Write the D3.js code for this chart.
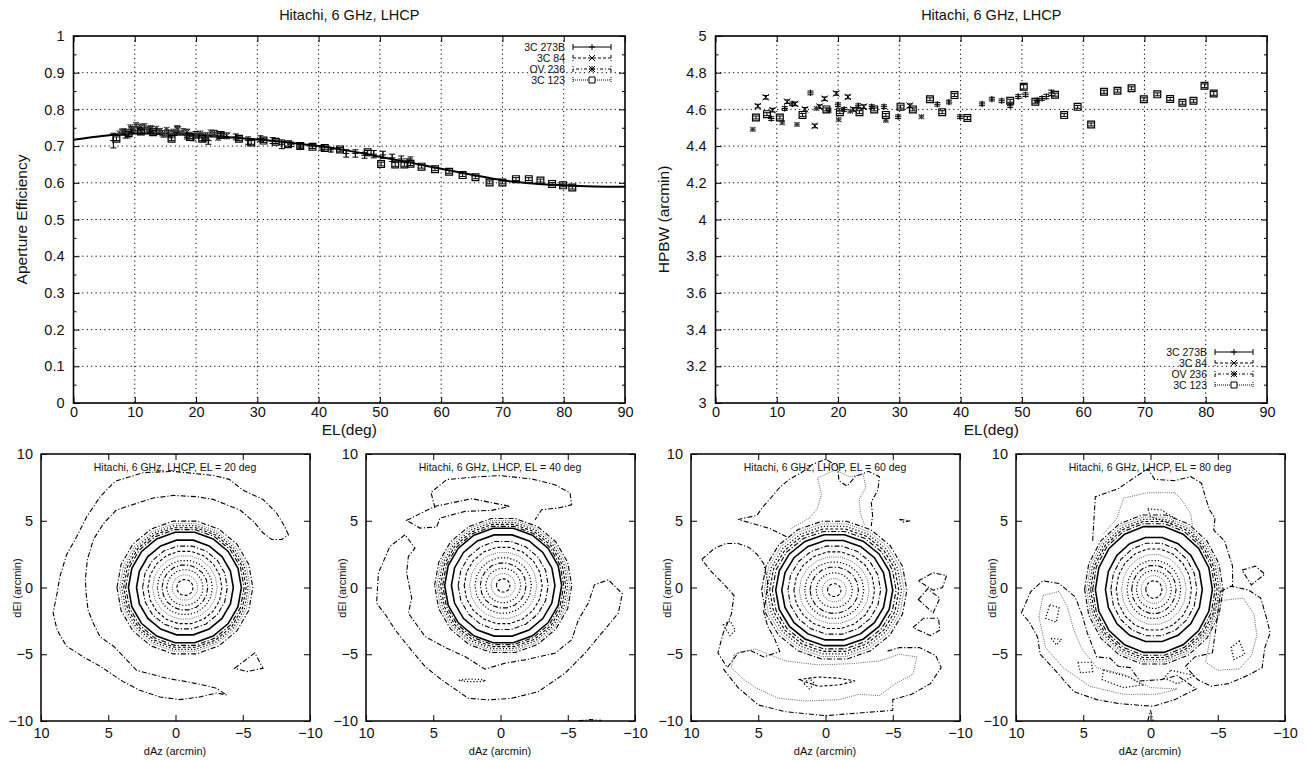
<!DOCTYPE html>
<html>
<head>
<meta charset="utf-8">
<script src="https://cdn.jsdelivr.net/npm/d3@7"></script>
<style>
  body { margin: 0; background: #fff; }
  text { font-family: "Liberation Sans", Arial, Helvetica, sans-serif; fill: #111; }
</style>
</head>
<body>
<svg id="chart" width="1306" height="760"></svg>
<script>
// ---------- data: aperture efficiency vs elevation ----------
const effFitEl  = [0, 5, 10, 15, 20, 25, 30, 35, 40, 45, 50, 55, 60, 65, 70, 75, 80, 85, 90];
const effFitVal = [0.717, 0.728, 0.734, 0.734, 0.730, 0.725, 0.718, 0.710, 0.700, 0.687, 0.671, 0.655, 0.638, 0.622, 0.607, 0.598, 0.593, 0.590, 0.589];

// [EL, value, error]
const eff3C273B = [[6.5,0.715,0.02],[8.5,0.73,0.008],[10.5,0.742,0.008],[12.5,0.74,0.006],[14.5,0.735,0.007],[16.5,0.735,0.006],
  [18.5,0.73,0.006],[20.5,0.728,0.006],[22,0.715,0.01],[24,0.73,0.006],[26.5,0.725,0.008],[28.5,0.715,0.01],[30.5,0.72,0.008],
  [32.5,0.715,0.008],[34,0.705,0.012],[35.5,0.705,0.006],[37,0.70,0.006],[39,0.70,0.006],[40.5,0.695,0.006],[42,0.69,0.006],
  [44.5,0.68,0.01],[46,0.68,0.01],[47.5,0.675,0.008],[49,0.678,0.01],[50.5,0.676,0.01],[52,0.668,0.01],[53.5,0.665,0.008]];
const eff3C84 = [[8,0.738,0.008],[9.5,0.745,0.008],[11,0.752,0.008],[12.5,0.745,0.008],[14,0.74,0.008],[15.5,0.735,0.008],
  [17,0.745,0.008],[18.5,0.738,0.008],[20,0.732,0.008],[21.5,0.728,0.008],[23,0.735,0.008],[25,0.728,0.008]];
const effOV236 = [[7.5,0.735,0.006],[8.2,0.742,0.006],[8.8,0.728,0.006],[9.3,0.752,0.006],[9.8,0.745,0.006],[10.2,0.758,0.006],
  [10.7,0.748,0.006],[11.1,0.738,0.006],[11.6,0.755,0.006],[12.0,0.745,0.006],[12.6,0.75,0.006],[13.1,0.735,0.006],
  [13.5,0.748,0.006],[14.1,0.742,0.006],[14.7,0.73,0.006],[15.2,0.745,0.006],[15.8,0.728,0.006],[16.3,0.74,0.006],
  [16.9,0.75,0.006],[17.4,0.735,0.006],[17.9,0.742,0.006],[18.5,0.725,0.006],[19.0,0.732,0.006],[19.6,0.72,0.006],
  [20.1,0.728,0.006],[20.7,0.735,0.006],[21.3,0.718,0.006],[21.8,0.725,0.006],[22.4,0.738,0.006],[23.0,0.73,0.006],
  [23.6,0.722,0.006],[24.2,0.728,0.006],[54.5,0.66,0.006],[55,0.665,0.006]];
const eff3C123 = [[7,0.72,0.005],[9,0.735,0.005],[11,0.74,0.005],[13,0.738,0.005],[16,0.72,0.005],[19,0.725,0.005],
  [21,0.72,0.005],[24,0.73,0.005],[27,0.72,0.005],[29,0.71,0.005],[31,0.715,0.005],[33,0.712,0.005],[35,0.705,0.005],
  [37,0.70,0.005],[39,0.698,0.005],[41,0.695,0.005],[43.5,0.691,0.005],[48,0.683,0.005],[50.2,0.651,0.005],
  [52.5,0.65,0.005],[54,0.65,0.005],[55,0.652,0.005],[56.8,0.644,0.004],[59,0.637,0.004],[61.3,0.63,0.004],
  [63.5,0.621,0.004],[65.6,0.615,0.004],[67.9,0.601,0.004],[70,0.601,0.004],[72.2,0.61,0.004],[74.3,0.61,0.004],
  [76.2,0.606,0.004],[78.1,0.597,0.004],[79.9,0.593,0.004],[81.4,0.587,0.004]];

// ---------- data: HPBW vs elevation ----------
const hpbw3C273B = [[9.1,4.55,0.01],[11.3,4.605,0.01],[12.5,4.63,0.01],[15.5,4.69,0.01],[20,4.625,0.01],[21,4.6,0.01],
  [23.3,4.62,0.01],[25.5,4.615,0.01],[27.5,4.615,0.01],[29.8,4.56,0.01],[36.2,4.628,0.01],[38.1,4.64,0.01],[39.9,4.56,0.01],
  [43.5,4.63,0.01],[45.1,4.656,0.01],[46.7,4.647,0.01],[48.1,4.62,0.01],[49.4,4.67,0.01],[50.6,4.68,0.01],[52.5,4.65,0.01],
  [53.3,4.66,0.01],[54,4.67,0.012],[54.8,4.69,0.015]];
const hpbw3C84 = [[6.9,4.618,0.01],[8.2,4.666,0.01],[9.3,4.596,0.01],[11.7,4.642,0.01],[13,4.63,0.01],[14.6,4.6,0.01],
  [16.2,4.51,0.01],[17,4.615,0.01],[17.8,4.658,0.01],[19.7,4.687,0.01],[21.6,4.668,0.01],[22.5,4.6,0.01],[24.2,4.615,0.01],
  [31.7,4.62,0.01]];
const hpbwOV236 = [[6.1,4.491,0.008],[10.9,4.527,0.008],[13.3,4.518,0.008],[16.5,4.605,0.008],[18.5,4.595,0.008],
  [20.1,4.544,0.008],[22,4.59,0.008],[27.8,4.54,0.008],[33.6,4.56,0.008]];
const hpbw3C123 = [[6.6,4.556,0.008],[8.4,4.574,0.008],[10.5,4.556,0.008],[14.2,4.57,0.008],[18.1,4.6,0.008],[20.3,4.585,0.008],
  [23.5,4.585,0.008],[25.9,4.6,0.008],[27.8,4.57,0.008],[30.2,4.615,0.008],[32.2,4.6,0.008],[35,4.655,0.008],[37,4.585,0.008],
  [39,4.678,0.008],[41.1,4.553,0.008],[48.1,4.647,0.008],[50.3,4.723,0.012],[52.2,4.642,0.008],[55.4,4.68,0.008],
  [56.9,4.569,0.008],[59.1,4.614,0.008],[61.3,4.518,0.008],[63.4,4.696,0.008],[65.6,4.702,0.008],[67.9,4.715,0.008],
  [69.9,4.655,0.008],[72.1,4.682,0.008],[74.2,4.657,0.008],[76.2,4.636,0.008],[78,4.647,0.008],[79.8,4.729,0.01],
  [81.3,4.687,0.01]];

const sourceNames = ["3C 273B", "3C 84", "OV 236", "3C 123"];

// ---------- data: beam maps (dAz, dEl in arcmin) ----------
const mapElevations = [20, 40, 60, 80];
const mapCentres = [[-0.7, 0.0], [-0.2, 0.15], [-0.65, -0.2], [-0.25, -0.15]];
const mapAspect = [1.0, 1.0, 0.97, 1.1];
// radius of each contour level around the main beam, innermost first
const mapRadii = [
  [0.6, 0.95, 1.35, 1.7, 2.05, 2.4, 2.75, 3.15, 3.6, 4.2, 4.4, 4.55, 4.7, 4.85, 5.05],
  [0.5, 0.9, 1.3, 1.7, 2.1, 2.5, 2.9, 3.35, 3.85, 4.35, 4.5, 4.65, 4.8, 4.95, 5.1],
  [0.5, 0.9, 1.35, 1.8, 2.2, 2.6, 3.0, 3.45, 3.9, 4.35, 4.6, 4.8, 5.0, 5.2, 5.4],
  [0.6, 0.95, 1.3, 1.65, 2.0, 2.4, 2.8, 3.2, 3.6, 4.35, 4.55, 4.7, 4.85, 5.0, 5.15]
];
// side-lobe traces: [level index, closed (1) or open (0), points]
const map20Lobes = [
  [14, 1, [[-8.4,3.95],[-8.1,4.6],[-7.5,5.6],[-6.5,6.6],[-5.0,7.3],[-4.0,8.1],[-2.8,8.4],[0.2,8.7],[2.4,8.6],[4.5,7.95],
    [5.6,6.8],[6.6,5.3],[7.35,3.8],[8.1,2.45],[8.6,0.8],[8.8,-0.4],[9.1,-1.9],[8.8,-3.2],[8.1,-4.4],[6.85,-5.2],[5.6,-5.9],
    [3.9,-7.05],[2.65,-7.7],[1.15,-8.2],[-0.3,-8.4],[-1.8,-8.2],[-3.05,-7.9],[-3.8,-8.05],[-3.05,-7.55],[-2.05,-7.3],
    [-0.8,-7.05],[0.65,-6.8],[2.15,-6.4],[2.9,-6.2],[3.65,-5.4],[4.6,-4.4],[5.6,-3.7],[6.1,-2.7],[6.5,-1.7],[6.65,-0.4],
    [6.7,0.6],[6.55,2.1],[6.1,3.6],[5.35,4.8],[4.4,5.8],[2.9,6.3],[1.65,6.7],[0.15,6.9],[-1.6,6.8],[-2.8,6.6],[-3.8,6.2],
    [-4.8,5.8],[-5.8,4.95],[-6.5,4.1],[-7.15,3.6],[-7.9,3.6]]],
  [14, 1, [[-4.4,-6.05],[-5.9,-4.9],[-6.5,-6.05],[-5.3,-6.3]]]
];
const map40Lobes = [
  [14, 0, [[4.87,5.95],[5.17,7.13],[4.0,8.08],[1.9,8.28],[0.04,8.38],[-2.32,8.13],[-4.05,7.7],[-5.17,7.08],[-5.29,6.2],
    [-4.3,5.95],[-3.06,5.83],[-2.57,5.08]]],
  [14, 1, [[6.98,5.03],[4.87,6.08],[2.14,6.65],[-0.71,6.08],[0.66,5.78],[2.64,5.7],[4.5,5.2],[4.75,4.53],[5.99,4.45]]],
  [14, 1, [[7.1,3.95],[8.22,3.08],[9.08,1.08],[9.21,-1.17],[8.46,-2.17],[7.84,-3.17],[6.85,-4.42],[5.61,-5.92],[4.37,-6.92],
    [2.39,-8.3],[0.9,-8.42],[-0.83,-8.3],[-2.81,-7.8],[-4.8,-6.42],[-6.28,-4.92],[-7.52,-3.42],[-8.76,-1.92],[-9.06,-0.47],
    [-8.02,0.58],[-6.98,0.2],[-6.53,-1.17],[-5.79,-2.42],[-5.29,-3.92],[-4.05,-4.92],[-1.82,-5.42],[-0.33,-5.67],[1.15,-6.12],
    [2.64,-5.17],[4.0,-4.55],[5.61,-3.67],[6.85,-1.92],[6.6,-0.8],[6.98,1.08],[6.85,2.33],[6.36,2.95]]],
  [12, 1, [[3.1,-6.95],[2.5,-6.86],[1.5,-6.88],[1.1,-6.98],[1.5,-7.05],[2.5,-7.05]]],
  [14, 0, [[-5.8,-9.99],[-6.6,-9.9],[-7.5,-9.95]]]
];
const map60Lobes = [
  [14, 0, [[2.9,3.8],[4.1,4.4],[5.1,4.7],[6.5,5.1],[5.1,5.4],[4.6,6.1],[3.9,6.9],[3.4,7.5],[2.7,8.1],[1.8,8.6],[1.0,9.2],
    [0.0,9.6],[-0.9,9.1],[-1.0,8.0],[-1.6,7.6],[-2.2,8.3],[-3.2,8.7],[-4.0,8.3],[-3.9,7.3],[-3.4,6.4],[-3.5,5.4],[-3.4,4.6]]],
  [13, 0, [[2.6,4.4],[1.2,5.2],[0.6,5.9],[0.3,7.0],[0.6,8.2],[-0.7,8.8],[-1.8,8.3],[-2.8,8.5],[-3.0,7.5],[-2.5,6.6],
    [-2.6,5.5],[-2.9,4.7]]],
  [14, 1, [[9.2,2.1],[8.3,2.9],[7.4,3.3],[6.5,3.3],[5.7,3.0],[5.1,2.5],[4.6,1.8],[4.3,0.5],[4.4,-0.7],[4.6,-1.8],[4.3,-2.9],
    [3.8,-3.8],[3.4,-4.8],[4.6,-5.2],[5.6,-4.7],[6.5,-4.9],[7.3,-6.0],[8.0,-4.9],[7.6,-3.4],[7.0,-2.0],[6.8,-0.6],[7.6,0.3],[8.5,1.2]]],
  [13, 1, [[6.8,-5.0],[5.2,-4.6],[3.0,-5.5],[0.5,-5.8],[-2.0,-5.7],[-4.0,-5.5],[-5.5,-5.0],[-6.8,-5.2],[-6.5,-6.5],[-5.2,-7.2],
    [-4.0,-8.1],[-2.5,-8.0],[-1.0,-8.4],[1.5,-8.5],[3.5,-8.3],[5.2,-7.5],[6.2,-6.8],[7.0,-6.0]]],
  [14, 0, [[7.6,-6.1],[6.5,-7.5],[5.0,-8.8],[3.0,-9.3],[0.0,-9.6],[-2.5,-9.4],[-5.0,-9.2],[-5.0,-8.4],[-6.4,-8.0],[-7.8,-7.2],
    [-8.6,-6.0],[-8.2,-5.1],[-7.0,-4.5],[-5.5,-4.5],[-4.5,-4.8]]],
  [11, 1, [[2.0,-6.9],[0.5,-6.7],[-1.0,-6.8],[-2.2,-7.0],[-1.0,-7.3],[0.5,-7.4]]],
  [14, 1, [[-6.9,0.5],[-8.0,1.1],[-9.0,0.9],[-8.7,0.0],[-8.0,-0.2]]],
  [14, 1, [[-6.9,-0.9],[-7.6,-0.1],[-8.5,-0.8],[-8.0,-1.9]]],
  [14, 1, [[-6.5,-3.0],[-7.3,-2.3],[-8.4,-2.3],[-8.5,-3.2],[-7.8,-3.6]]],
  [14, 1, [[-5.5,5.1],[-6.3,5.0],[-5.8,4.9]]],
  [12, 1, [[7.6,-2.8],[7.1,-2.5],[6.7,-3.2],[7.1,-3.6]]],
  [12, 1, [[1.6,-7.2],[1.2,-6.8],[0.8,-7.2],[1.2,-7.6]]]
];
const map80Lobes = [
  [14, 0, [[4.3,3.5],[4.2,5.2],[4.1,6.8],[2.4,7.4],[1.1,8.3],[0.2,8.9],[-0.3,8.1],[-1.8,8.0],[-3.0,8.3],[-3.8,7.8],[-4.1,6.7],
    [-4.4,5.8],[-4.8,5.2],[-4.7,4.3],[-5.5,3.5],[-6.1,1.6],[-6.1,0.1]]],
  [13, 0, [[3.5,4.0],[2.5,5.2],[2.0,6.7],[0.2,7.1],[-1.8,7.1],[-2.3,6.6],[-3.0,5.5],[-3.2,4.0],[-3.8,2.8]]],
  [12, 1, [[0.2,5.9],[-0.8,5.8],[-1.8,5.2],[-1.6,4.8],[0.0,5.3]]],
  [14, 1, [[-5.2,-0.3],[-6.0,0.1],[-7.3,-0.2],[-8.2,-0.8],[-8.6,-2.2],[-8.9,-3.4],[-8.5,-4.5],[-8.3,-6.0],[-7.2,-6.6],
    [-5.8,-7.2],[-4.5,-7.4],[-3.5,-6.9],[-2.6,-5.9],[-3.3,-5.2],[-4.6,-4.9],[-4.8,-3.5],[-5.0,-2.0]]],
  [13, 1, [[-5.0,-1.0],[-6.9,-0.8],[-7.7,-2.0],[-7.9,-3.6],[-7.5,-5.1],[-6.6,-6.1],[-5.0,-6.2],[-4.1,-5.6],[-4.4,-4.0],[-4.6,-2.3]]],
  [14, 1, [[9.6,-1.9],[8.9,-0.3],[8.0,0.5],[6.8,0.3],[5.6,-0.7],[5.1,-2.0],[4.7,-3.4],[4.0,-5.2],[3.0,-5.3],[2.4,-5.9],
    [1.5,-6.0],[0.8,-7.0],[-0.8,-6.9],[-2.0,-6.6],[-3.4,-7.6],[-1.8,-8.4],[-0.2,-8.9],[2.3,-8.7],[4.0,-8.4],[5.7,-7.8],
    [7.0,-6.3],[8.2,-5.0],[8.4,-3.7],[9.0,-2.6]]],
  [13, 1, [[8.3,-2.2],[8.0,-0.6],[6.8,-0.3],[6.2,-1.4],[5.7,-3.2],[5.1,-4.6],[4.0,-6.0],[2.0,-6.5],[0.0,-7.5],[-2.0,-7.6],
    [-0.5,-8.0],[2.0,-8.0],[4.5,-7.4],[6.5,-6.0],[7.8,-4.5]]],
  [12, 1, [[7.5,-1.3],[6.8,-1.5],[7.0,-2.6],[7.8,-2.3]]],
  [12, 1, [[7.4,-3.8],[6.6,-3.9],[7.0,-4.3]]],
  [12, 1, [[5.4,-5.6],[4.4,-5.6],[4.3,-6.3],[5.2,-6.4]]],
  [12, 1, [[3.5,-6.2],[1.6,-6.7],[0.6,-7.3],[2.0,-7.5],[3.6,-6.9]]],
  [12, 1, [[-1.5,-6.2],[-3.3,-6.6],[-2.0,-7.2],[-1.0,-6.8]]],
  [12, 1, [[-6.6,-4.0],[-7.0,-5.0],[-6.2,-5.4],[-6.0,-4.5]]],
  [14, 1, [[-6.8,1.3],[-7.8,1.6],[-8.5,1.0],[-7.5,0.2]]],
  [14, 0, [[0.2,-10],[0.0,-9.2],[-0.2,-10]]]
];
const mapLobes = [map20Lobes, map40Lobes, map60Lobes, map80Lobes];

// ---------- styles ----------
const lineStyles = {
  solid:   { dash: null,        width: 1.6, color: "#000" },
  dash:    { dash: "3,2",       width: 1.1, color: "#000" },
  dot:     { dash: "1.2,2",     width: 1.2, color: "#000" },
  gray:    { dash: "1,1.2",     width: 1.0, color: "#666" },
  dashdot: { dash: "5,2,1.2,2", width: 1.1, color: "#000" }
};
const levelStyle = ["dash","gray","dot","dashdot","dot","gray","dash","dashdot","solid","solid","dashdot","dash","dot","gray","dashdot"];

const svg = d3.select("#chart");

function applyStyle(sel, name) {
  const st = lineStyles[name];
  sel.attr("fill", "none").attr("stroke", st.color).attr("stroke-width", st.width)
    .attr("stroke-dasharray", st.dash);
}

function markerPath(type, px, py, s) {
  const p = `M${px - s},${py}H${px + s}M${px},${py - s}V${py + s}`;
  const x = `M${px - s},${py - s}L${px + s},${py + s}M${px - s},${py + s}L${px + s},${py - s}`;
  if (type === "plus") return p;
  if (type === "x") return x;
  if (type === "star") return p + x;
  return `M${px - s},${py - s}H${px + s}V${py + s}H${px - s}Z`;
}

const seriesMarkers = ["plus", "x", "star", "box"];
const legendDash = [null, "3,2", "1,2,3,2", "1,1"];

function profilePanel(o) {
  const g = svg.append("g");
  const x = d3.scaleLinear().domain([0, 90]).range([o.left, o.right]);
  const y = d3.scaleLinear().domain(o.yDomain).range([o.bottom, o.top]);
  const xTicks = d3.range(0, 91, 10);
  const yTicks = d3.range(o.yDomain[0], o.yDomain[1] + o.yStep / 2, o.yStep).map(v => +v.toFixed(3));
  const yMinor = yTicks.slice(0, -1).map(v => +(v + o.yStep / 2).toFixed(3));

  // grid
  g.append("g").selectAll("line").data(xTicks.slice(1, -1)).join("line")
    .attr("x1", d => x(d)).attr("x2", d => x(d)).attr("y1", o.top).attr("y2", o.bottom)
    .attr("stroke", "#000").attr("stroke-width", 1).attr("stroke-dasharray", "1.2,3.2");
  g.append("g").selectAll("line").data(yTicks.slice(1, -1)).join("line")
    .attr("y1", d => y(d)).attr("y2", d => y(d)).attr("x1", o.left).attr("x2", o.right)
    .attr("stroke", "#000").attr("stroke-width", 1).attr("stroke-dasharray", "1.2,3.2");

  // axes (ticks inward, mirrored)
  const fmt = d3.format("~g");
  const ax = (axis, tr) => {
    const a = g.append("g").attr("transform", tr).call(axis);
    a.select(".domain").remove();
    a.selectAll("line").attr("stroke", "#000").attr("stroke-width", 1);
    a.selectAll("text").attr("font-size", 14.5).attr("font-family", "'Liberation Sans', Arial, sans-serif").attr("fill", "#111");
    return a;
  };
  ax(d3.axisBottom(x).tickValues(xTicks).tickFormat(fmt).tickSizeInner(-6).tickSizeOuter(0).tickPadding(4), `translate(0,${o.bottom})`);
  ax(d3.axisTop(x).tickValues(xTicks).tickFormat("").tickSizeInner(-6).tickSizeOuter(0), `translate(0,${o.top})`);
  ax(d3.axisLeft(y).tickValues(yTicks).tickFormat(fmt).tickSizeInner(-6).tickSizeOuter(0).tickPadding(9), `translate(${o.left},0)`);
  ax(d3.axisRight(y).tickValues(yTicks).tickFormat("").tickSizeInner(-6).tickSizeOuter(0), `translate(${o.right},0)`);
  ax(d3.axisLeft(y).tickValues(yMinor).tickFormat("").tickSizeInner(-3).tickSizeOuter(0), `translate(${o.left},0)`);
  ax(d3.axisRight(y).tickValues(yMinor).tickFormat("").tickSizeInner(-3).tickSizeOuter(0), `translate(${o.right},0)`);

  // titles
  g.append("text").attr("x", (o.left + o.right) / 2).attr("y", 20).attr("text-anchor", "middle")
    .attr("font-size", 14.5).text(o.title);
  g.append("text").attr("x", (o.left + o.right) / 2).attr("y", 435).attr("text-anchor", "middle")
    .attr("font-size", 15.5).text("EL(deg)");
  g.append("text").attr("transform", `translate(${o.left - 47},${(o.top + o.bottom) / 2}) rotate(-90)`)
    .attr("text-anchor", "middle").attr("font-size", 15.5).text(o.yLabel);

  // fit curve
  if (o.fit) {
    g.append("path").datum(d3.zip(o.fit[0], o.fit[1]))
      .attr("d", d3.line().x(d => x(d[0])).y(d => y(d[1])).curve(d3.curveMonotoneX))
      .attr("fill", "none").attr("stroke", "#000").attr("stroke-width", 2);
  }

  // series: error bars + markers
  o.series.forEach((ser, i) => {
    const sg = g.append("g");
    const cap = 3;
    sg.selectAll("path.err").data(ser).join("path").attr("class", "err")
      .attr("d", d => {
        const px = x(d[0]), y0 = y(d[1] - d[2]), y1 = y(d[1] + d[2]);
        return `M${px},${y0}V${y1}M${px - cap},${y0}H${px + cap}M${px - cap},${y1}H${px + cap}`;
      })
      .attr("fill", "none").attr("stroke", i === 2 ? "#444" : "#000").attr("stroke-width", i === 2 ? 0.8 : 1);
    sg.selectAll("path.mk").data(ser).join("path").attr("class", "mk")
      .attr("d", d => markerPath(seriesMarkers[i], x(d[0]), y(d[1]), i === 3 ? 3.4 : (i === 2 ? 2.6 : 3.2)))
      .attr("fill", "none").attr("stroke", i === 2 ? "#333" : "#000").attr("stroke-width", i === 3 ? 1.2 : 1);
  });

  // frame
  g.append("rect").attr("x", o.left).attr("y", o.top).attr("width", o.right - o.left).attr("height", o.bottom - o.top)
    .attr("fill", "none").attr("stroke", "#000").attr("stroke-width", 1.6);

  // legend
  const lg = g.append("g");
  sourceNames.forEach((name, i) => {
    const ly = o.legendY[i];
    const x0 = o.right - 52, x1 = o.right - 14, xm = (x0 + x1) / 2;
    lg.append("text").attr("x", x0 - 8).attr("y", ly + 3.8).attr("text-anchor", "end").attr("font-size", 10.5).text(name);
    lg.append("path").attr("d", `M${x0},${ly}H${x1}M${x0},${ly - 3}V${ly + 3}M${x1},${ly - 3}V${ly + 3}`)
      .attr("fill", "none").attr("stroke", "#000").attr("stroke-width", 1).attr("stroke-dasharray", legendDash[i]);
    lg.append("path").attr("d", markerPath(seriesMarkers[i], xm, ly, 3)).attr("fill", "#fff")
      .attr("stroke", "#000").attr("stroke-width", 1);
  });
}

profilePanel({
  left: 73.5, right: 625, top: 36, bottom: 403,
  yDomain: [0, 1], yStep: 0.1, title: "Hitachi, 6 GHz, LHCP", yLabel: "Aperture Efficiency",
  fit: [effFitEl, effFitVal], series: [eff3C273B, eff3C84, effOV236, eff3C123],
  legendY: [47, 58, 69, 80]
});
profilePanel({
  left: 715.5, right: 1267, top: 36, bottom: 403,
  yDomain: [3, 5], yStep: 0.2, title: "Hitachi, 6 GHz, LHCP", yLabel: "HPBW (arcmin)",
  fit: null, series: [hpbw3C273B, hpbw3C84, hpbwOV236, hpbw3C123],
  legendY: [352, 363, 374, 385]
});

// ---------- beam maps ----------
const mapLeft = [41, 366, 691, 1016];
const mapTop = 454, mapSize = 268;

mapElevations.forEach((el, m) => {
  const g = svg.append("g");
  const left = mapLeft[m];
  const x = d3.scaleLinear().domain([10, -10]).range([left, left + mapSize + 1]);
  const y = d3.scaleLinear().domain([-10, 10]).range([mapTop + mapSize - 1, mapTop]);
  const clipId = "clip" + m;
  g.append("clipPath").attr("id", clipId).append("rect")
    .attr("x", left).attr("y", mapTop).attr("width", mapSize + 1).attr("height", mapSize - 1);
  const cg = g.append("g").attr("clip-path", `url(#${clipId})`);
  const line = d3.line().x(d => x(d[0])).y(d => y(d[1]));

  // main beam rings
  const [cx, cy] = mapCentres[m];
  const angles = d3.range(0, 360, 20).map(a => a * Math.PI / 180);
  mapRadii[m].forEach((r, k) => {
    const pts = angles.map(a => [cx + r * Math.cos(a), cy + r * mapAspect[m] * Math.sin(a)]);
    cg.append("path").attr("d", line.curve(d3.curveLinearClosed)(pts)).call(applyStyle, levelStyle[k]);
  });

  // side lobes
  mapLobes[m].forEach(([lev, closed, pts]) => {
    cg.append("path").attr("d", line.curve(closed ? d3.curveLinearClosed : d3.curveLinear)(pts))
      .call(applyStyle, levelStyle[lev]);
  });

  // axes
  const ticks = [-10, -5, 0, 5, 10];
  const ax = (axis, tr) => {
    const a = g.append("g").attr("transform", tr).call(axis);
    a.select(".domain").remove();
    a.selectAll("line").attr("stroke", "#000").attr("stroke-width", 1);
    a.selectAll("text").attr("font-size", 14.5).attr("font-family", "'Liberation Sans', Arial, sans-serif").attr("fill", "#111");
  };
  ax(d3.axisBottom(x).tickValues(ticks).tickSizeInner(-6).tickSizeOuter(0).tickPadding(7), `translate(0,${mapTop + mapSize - 1})`);
  ax(d3.axisTop(x).tickValues(ticks).tickFormat("").tickSizeInner(-6).tickSizeOuter(0), `translate(0,${mapTop})`);
  ax(d3.axisLeft(y).tickValues(ticks).tickSizeInner(-6).tickSizeOuter(0).tickPadding(8), `translate(${left},0)`);
  ax(d3.axisRight(y).tickValues(ticks).tickFormat("").tickSizeInner(-6).tickSizeOuter(0), `translate(${left + mapSize + 1},0)`);

  g.append("rect").attr("x", left).attr("y", mapTop).attr("width", mapSize + 1).attr("height", mapSize - 1)
    .attr("fill", "none").attr("stroke", "#000").attr("stroke-width", 1.5);

  g.append("text").attr("x", left + mapSize / 2).attr("y", mapTop + 17).attr("text-anchor", "middle")
    .attr("font-size", 10.5).text(`Hitachi, 6 GHz, LHCP, EL = ${el} deg`);
  g.append("text").attr("x", left + mapSize / 2).attr("y", 755).attr("text-anchor", "middle")
    .attr("font-size", 11).text("dAz (arcmin)");
  g.append("text").attr("transform", `translate(${left - 20},${mapTop + mapSize / 2}) rotate(-90)`)
    .attr("text-anchor", "middle").attr("font-size", 11).text("dEl (arcmin)");
});
</script>
</body>
</html>
